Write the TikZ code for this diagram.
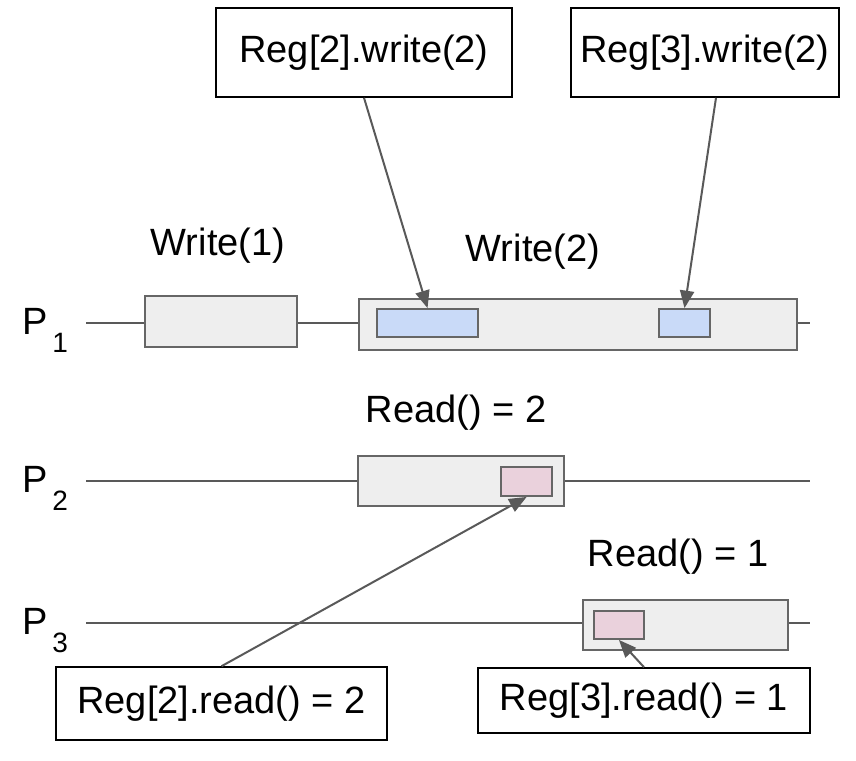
\documentclass[tikz,border=0pt]{standalone}
\usepackage{fontspec}
\setmainfont{Liberation Sans}
\usepackage{xcolor}
\usepackage{tikz}
\usetikzlibrary{arrows}

\definecolor{lineGray}{HTML}{595959}
\definecolor{boxGray}{HTML}{EEEEEE}
\definecolor{edgeGray}{HTML}{666666}
\definecolor{regBlue}{HTML}{C9DAF8}
\definecolor{regPink}{HTML}{EAD1DC}

\begin{document}
\begin{tikzpicture}[x=0.5pt,y=-0.5pt,
  opbox/.style={draw=edgeGray,fill=boxGray,line width=1pt,inner sep=0pt},
  regbox/.style={draw=edgeGray,line width=1pt,inner sep=0pt},
  callout/.style={draw=black,fill=white,line width=0.8pt,inner sep=0pt},
  plabel/.style={anchor=base west,inner sep=0pt},
  font=\fontsize{19}{23}\selectfont]
\useasboundingbox (0,0) rectangle (856,760);
\begin{scope}[>=triangle 45,line width=1pt,draw=lineGray]

    % process lines
    \node[plabel] (p1) at (22,334) {P\hspace{2pt}\raisebox{-9pt}{\fontsize{14}{16}\selectfont 1}};
    \node[plabel] (p2) at (22,492) {P\hspace{2pt}\raisebox{-9pt}{\fontsize{14}{16}\selectfont 2}};
    \node[plabel] (p3) at (22,634) {P\hspace{2pt}\raisebox{-9pt}{\fontsize{14}{16}\selectfont 3}};

    \coordinate (s1) at (86,323);  \coordinate (e1) at (810,323);
    \coordinate (s2) at (86,481);  \coordinate (e2) at (810,481);
    \coordinate (s3) at (86,623);  \coordinate (e3) at (810,623);

    \draw[lineGray] (s1) -- (e1);
    \draw[lineGray] (s2) -- (e2);
    \draw[lineGray] (s3) -- (e3);

    % operations
    \node[opbox,minimum width=76pt,minimum height=25.5pt]  (w1) at (221,321.5) {};
    \node[opbox,minimum width=219pt,minimum height=25.5pt] (w2) at (578,324.5) {};
    \node[opbox,minimum width=103pt,minimum height=25pt]   (r2) at (461,481) {};
    \node[opbox,minimum width=102.5pt,minimum height=25pt] (r3) at (685.5,625) {};

    \node (t1) at (218,246) {Write(1)};
    \node (t2) at (533,252) {Write(2)};
    \node (t3) at (456,413) {Read() = 2};
    \node (t4) at (678,557) {Read() = 1};

    % register accesses
    \node[regbox,fill=regBlue,minimum width=50.5pt,minimum height=14pt]   (b1) at (427.5,323) {};
    \node[regbox,fill=regBlue,minimum width=25.5pt,minimum height=14pt]   (b2) at (684.5,323) {};
    \node[regbox,fill=regPink,minimum width=25.5pt,minimum height=14.5pt] (k2) at (526.5,481.5) {};
    \node[regbox,fill=regPink,minimum width=25pt,minimum height=14pt]     (k3) at (619,625) {};

    \node[callout,minimum width=148pt,minimum height=44.5pt]   (rw2) at (364,52.5)  {Reg[2].write(2)};
    \node[callout,minimum width=134pt,minimum height=44.5pt]   (rw3) at (705,52.5)  {Reg[3].write(2)};
    \node[callout,minimum width=165.5pt,minimum height=36.5pt] (rr2) at (221.5,703.5) {Reg[2].read() = 2};
    \node[callout,minimum width=166pt,minimum height=32.5pt]   (rr3) at (644,700.5) {Reg[3].read() = 1};

    \draw[->,lineGray] (rw2.south) -- (b1.north);
    \draw[->,lineGray] ([xshift=5.5pt]rw3.south) -- (b2.north);
    \draw[->,lineGray] (rr2.north) -- (k2.south);
    \draw[->,lineGray] (rr3.north) -- (k3.south);

\end{scope}
\end{tikzpicture}
\end{document}
